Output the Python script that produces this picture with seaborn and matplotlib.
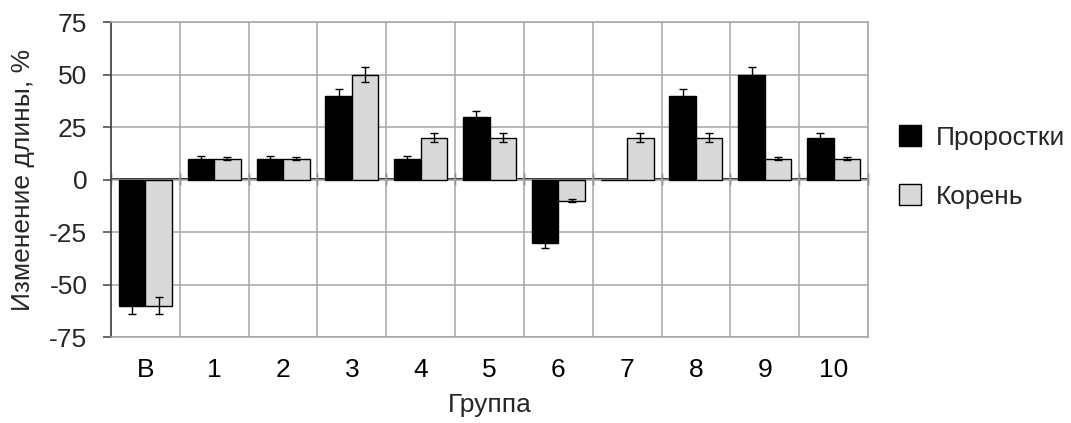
import numpy as np
import pandas as pd
import matplotlib
matplotlib.use("Agg")
import matplotlib.pyplot as plt
import seaborn as sns

groups = ["В", "1", "2", "3", "4", "5", "6", "7", "8", "9", "10"]
series_names = ["Проростки", "Корень"]
pro_values = [-60, 10, 10, 40, 10, 30, -30, 0, 40, 50, 20]
pro_errors = [4, 1.4, 1.4, 3, 1.4, 2.5, 2.4, 0, 3, 3.5, 2]
kor_values = [-60, 10, 10, 50, 20, 20, -10, 20, 20, 10, 10]
kor_errors = [4, 0.7, 0.7, 3.5, 2, 2, 0.5, 2, 2, 0.5, 0.5]
y_ticks = [-75, -50, -25, 0, 25, 50, 75]

df = pd.DataFrame({
    "group": groups * 2,
    "value": pro_values + kor_values,
    "series": [series_names[0]] * len(groups) + [series_names[1]] * len(groups),
})

sns.set_theme(style="white")
plt.rcParams["font.family"] = ["Liberation Sans", "DejaVu Sans"]
FS = 19
GRID = "#a6a6a6"
DARK = "#404040"

fig = plt.figure(figsize=(10.71, 4.23), dpi=100)
ax = fig.add_axes([111 / 1071, 1 - 337 / 423, (868 - 111) / 1071, (337 - 22) / 423])

sns.barplot(data=df, x="group", y="value", hue="series", order=groups,
            hue_order=series_names, palette=["black", "#d9d9d9"],
            edgecolor="black", linewidth=1.0, width=0.77, errorbar=None,
            ax=ax, zorder=3)

for cont, errs in zip(ax.containers, [pro_errors, kor_errors]):
    xs, ys, es = [], [], []
    for bar, e in zip(cont, errs):
        if e > 0:
            xs.append(bar.get_x() + bar.get_width() / 2)
            ys.append(bar.get_y() + bar.get_height())
            es.append(e)
    ax.errorbar(xs, ys, yerr=es, fmt="none", ecolor="black", elinewidth=1.0,
                capsize=3, capthick=1.0, zorder=4)

handles, labels = ax.get_legend_handles_labels()
if ax.get_legend() is not None:
    ax.get_legend().remove()

ax.set_xlim(-0.5, len(groups) - 0.5)
ax.set_ylim(-75, 75)
ax.set_yticks(y_ticks)
ax.set_yticklabels([str(t) for t in y_ticks], fontsize=FS)
ax.set_xticks(range(len(groups)))
ax.set_xticklabels(groups, fontsize=FS)
ax.set_xticks(np.arange(-0.5, len(groups), 1.0), minor=True)

ax.set_axisbelow(True)
ax.grid(which="major", axis="y", color=GRID, linewidth=1.1)
ax.grid(which="minor", axis="x", color=GRID, linewidth=1.1)
ax.grid(which="major", axis="x", visible=False)

ax.tick_params(axis="x", which="both", length=0, pad=15, colors="black")
ax.tick_params(axis="y", which="major", length=6, width=1.1, color=DARK,
               direction="out", pad=11, left=True)

for s in ["top", "right", "bottom"]:
    ax.spines[s].set_color(GRID)
    ax.spines[s].set_linewidth(1.1)
ax.spines["left"].set_color(DARK)
ax.spines["left"].set_linewidth(1.2)

# zero axis line with crossing category tick marks
sec = ax.secondary_xaxis(0.5)
sec.set_xticks(np.arange(-0.5, len(groups), 1.0))
sec.tick_params(axis="x", direction="inout", length=8, width=1.0, color=DARK,
                labelbottom=False, labeltop=False)
sec.spines["bottom"].set_color(DARK)
sec.spines["bottom"].set_linewidth(1.2)

ax.set_xlabel("Группа", fontsize=FS, labelpad=8)
ax.set_ylabel("Изменение длины, %", fontsize=FS, labelpad=10)

fig.legend(handles, labels, loc="center left", bbox_to_anchor=(899 / 1071, 1 - 167 / 423),
           frameon=False, fontsize=FS, handlelength=0.85, handleheight=0.85,
           handletextpad=0.55, labelspacing=1.3, borderpad=0, borderaxespad=0)

fig.savefig("out.png", dpi=100)
